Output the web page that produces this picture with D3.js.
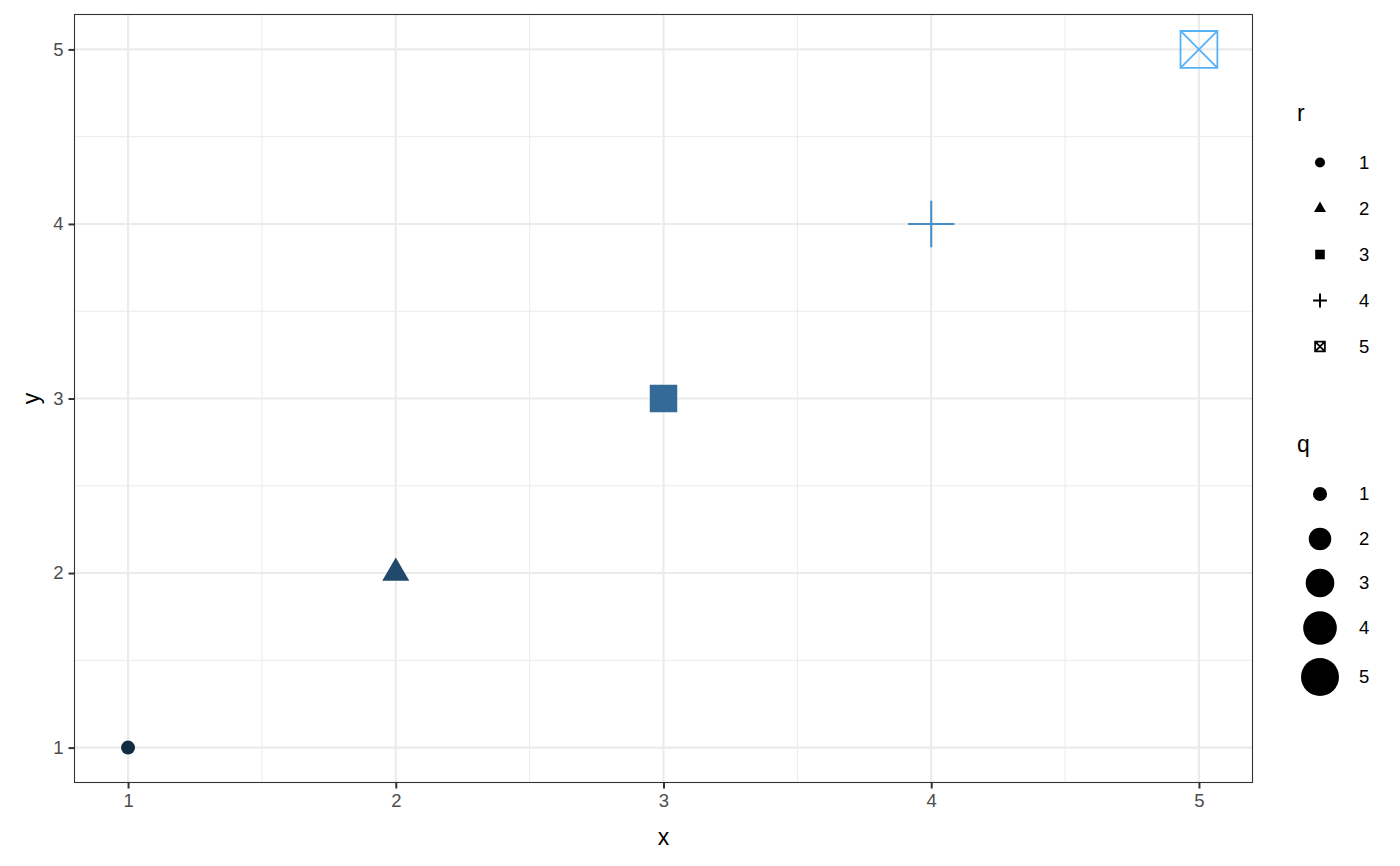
<!DOCTYPE html>
<html>
<head>
<meta charset="utf-8">
<script src="https://cdn.jsdelivr.net/npm/d3@7"></script>
<style>
  body { margin: 0; background: #fff; }
  text { font-family: "Liberation Sans", Arial, sans-serif; }
</style>
</head>
<body>
<div id="chart"></div>
<script>
// data
var xVals = [1, 2, 3, 4, 5];
var yVals = [1, 2, 3, 4, 5];
var rVals = [1, 2, 3, 4, 5];
var qVals = [1, 2, 3, 4, 5];
var rLevels = ['1', '2', '3', '4', '5'];
var qLevels = [1, 2, 3, 4, 5];
var shapeNames = ['circle', 'triangle', 'square', 'plus', 'boxcross'];
var xTicks = [1, 2, 3, 4, 5];
var yTicks = [1, 2, 3, 4, 5];

var W = 1400, H = 866;
var svg = d3.select('#chart').append('svg')
    .attr('width', W).attr('height', H);

var panel = {left: 74.5, top: 14.5, right: 1252.5, bottom: 782.5};

var x = d3.scaleLinear().domain([0.8, 5.2]).range([panel.left, panel.right]);
var y = d3.scaleLinear().domain([0.8, 5.2]).range([panel.bottom, panel.top]);
var colour = function(v) {
    return d3.interpolateLab('#132B43', '#56B1F7')((v - 1) / 4);
};
// size scale: area grows linearly with q
var sizeSq = d3.scaleLinear().domain([1, 5]).range([14 * 14, 38 * 38]);
var diam = function(q) { return Math.sqrt(sizeSq(q)); };

//Grid
var minorX = d3.range(1.5, 5, 1), minorY = d3.range(1.5, 5, 1);
var grid = svg.append('g');
grid.selectAll('.mx').data(minorX).enter().append('line')
    .attr('x1', d => x(d)).attr('x2', d => x(d))
    .attr('y1', panel.top).attr('y2', panel.bottom)
    .attr('stroke', '#EBEBEB').attr('stroke-width', 1);
grid.selectAll('.my').data(minorY).enter().append('line')
    .attr('y1', d => y(d)).attr('y2', d => y(d))
    .attr('x1', panel.left).attr('x2', panel.right)
    .attr('stroke', '#EBEBEB').attr('stroke-width', 1);
grid.selectAll('.gx').data(xTicks).enter().append('line')
    .attr('x1', d => x(d)).attr('x2', d => x(d))
    .attr('y1', panel.top).attr('y2', panel.bottom)
    .attr('stroke', '#EBEBEB').attr('stroke-width', 2.1);
grid.selectAll('.gy').data(yTicks).enter().append('line')
    .attr('y1', d => y(d)).attr('y2', d => y(d))
    .attr('x1', panel.left).attr('x2', panel.right)
    .attr('stroke', '#EBEBEB').attr('stroke-width', 2.1);

//Shapes
function drawShape(g, shape, d, col) {
    if (shape == 'circle') {
        g.append('circle').attr('r', d / 2).attr('fill', col);
    } else if (shape == 'triangle') {
        var w = d * 1.2, h = w * 0.866;
        g.append('path')
            .attr('d', 'M0,' + (-h * 2 / 3) + 'L' + (w / 2) + ',' + (h / 3) + 'L' + (-w / 2) + ',' + (h / 3) + 'Z')
            .attr('fill', col);
    } else if (shape == 'square') {
        var s = d * 0.96;
        g.append('rect').attr('x', -s / 2).attr('y', -s / 2)
            .attr('width', s).attr('height', s).attr('fill', col);
    } else if (shape == 'plus') {
        var a = d * 0.69;
        g.append('path')
            .attr('d', 'M' + (-a) + ',0H' + a + 'M0,' + (-a) + 'V' + a)
            .attr('stroke', col).attr('stroke-width', 2).attr('fill', 'none');
    } else {
        var b = d * 0.97 / 2;
        g.append('path')
            .attr('d', 'M' + (-b) + ',' + (-b) + 'H' + b + 'V' + b + 'H' + (-b) + 'Z'
                + 'M' + (-b) + ',' + (-b) + 'L' + b + ',' + b
                + 'M' + b + ',' + (-b) + 'L' + (-b) + ',' + b)
            .attr('stroke', col).attr('stroke-width', 1.8).attr('fill', 'none');
    }
}

var pts = xVals.map(function(v, i) {
    return {x: v, y: yVals[i], r: rVals[i], q: qVals[i]};
});
svg.append('g').selectAll('g').data(pts).enter().append('g')
    .attr('transform', d => 'translate(' + x(d.x) + ',' + y(d.y) + ')')
    .each(function(d) {
        drawShape(d3.select(this), shapeNames[d.r - 1], diam(d.q), colour(d.r));
    });

//Panel border
svg.append('rect')
    .attr('x', panel.left).attr('y', panel.top)
    .attr('width', panel.right - panel.left).attr('height', panel.bottom - panel.top)
    .attr('fill', 'none').attr('stroke', '#333333').attr('stroke-width', 1.1);

//Axes
var xAxis = svg.append('g')
    .attr('transform', 'translate(0,' + panel.bottom + ')')
    .call(d3.axisBottom(x).tickValues(xTicks).tickSize(6).tickPadding(5).tickFormat(d3.format('d')));
var yAxis = svg.append('g')
    .attr('transform', 'translate(' + panel.left + ',0)')
    .call(d3.axisLeft(y).tickValues(yTicks).tickSize(6).tickPadding(5).tickFormat(d3.format('d')));
[xAxis, yAxis].forEach(function(a) {
    a.select('.domain').remove();
    a.selectAll('.tick line').attr('stroke', '#333333').attr('stroke-width', 2);
    a.selectAll('.tick text').attr('fill', '#4D4D4D')
        .style('font-size', '18.5px').style('font-family', '"Liberation Sans", Arial, sans-serif');
});

svg.append('text').attr('x', (panel.left + panel.right) / 2).attr('y', 845)
    .attr('text-anchor', 'middle').style('font-size', '23px').text('x');
svg.append('text').attr('transform', 'translate(39,' + (panel.top + panel.bottom) / 2 + ') rotate(-90)')
    .attr('text-anchor', 'middle').style('font-size', '23px').text('y');

//Legends
var legR = svg.append('g').attr('transform', 'translate(1297,0)');
legR.append('text').attr('x', 0).attr('y', 121).style('font-size', '23px').text('r');
var rItems = legR.selectAll('.ri').data(rLevels).enter().append('g')
    .attr('transform', (d, i) => 'translate(0,' + (162.5 + i * 46) + ')');
rItems.each(function(d, i) {
    var g = d3.select(this).append('g').attr('transform', 'translate(23,0)');
    drawShape(g, shapeNames[i], 10, '#000');
});
rItems.append('text').attr('x', 62).attr('dy', '0.35em')
    .style('font-size', '18.5px').text(d => d);

var legQ = svg.append('g').attr('transform', 'translate(1297,0)');
legQ.append('text').attr('x', 0).attr('y', 452).style('font-size', '23px').text('q');
var qPos = [494, 539, 583, 628, 677];
var qItems = legQ.selectAll('.qi').data(qLevels).enter().append('g')
    .attr('transform', (d, i) => 'translate(0,' + qPos[i] + ')');
qItems.append('circle').attr('cx', 23).attr('r', d => diam(d) / 2).attr('fill', '#000');
qItems.append('text').attr('x', 62).attr('dy', '0.35em')
    .style('font-size', '18.5px').text(d => d);
</script>
</body>
</html>
